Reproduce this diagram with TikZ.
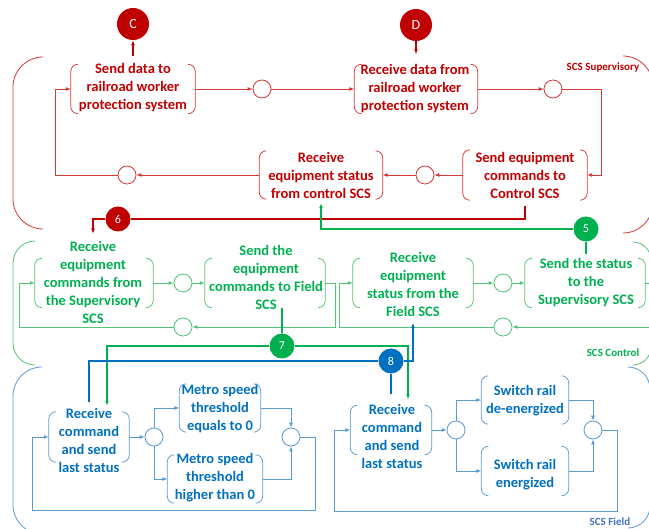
\documentclass[tikz,border=0pt]{standalone}
\usepackage{fontspec}
\setmainfont{Carlito}
\usetikzlibrary{arrows.meta}
\definecolor{rtx}{RGB}{192,0,0}
\definecolor{rln}{RGB}{214,56,56}
\definecolor{gtx}{RGB}{0,176,80}
\definecolor{gln}{RGB}{84,196,120}
\definecolor{btx}{RGB}{0,112,192}
\definecolor{bln}{RGB}{91,155,213}
\definecolor{blab}{RGB}{68,114,196}
\newcommand\brkbox[2]{%
 \draw[#2,line width=0.8pt] ([xshift=7pt]#1.north west) arc[start angle=90,end angle=180,radius=7pt] -- ([yshift=7pt]#1.south west) arc[start angle=180,end angle=270,radius=7pt];
 \draw[#2,line width=0.8pt] ([xshift=-7pt]#1.north east) arc[start angle=90,end angle=0,radius=7pt] -- ([yshift=7pt]#1.south east) arc[start angle=0,end angle=-90,radius=7pt];}
\begin{document}
\begin{tikzpicture}[x=1pt,y=-1pt,
 >={Latex[length=5pt,width=4pt]},
 frm/.style={rectangle,inner sep=0,draw=none},
 txt/.style={align=center,font=\fontsize{14.5}{18}\selectfont\bfseries,inner sep=0},
 sc/.style={circle,draw=#1,fill=white,line width=0.8pt,minimum size=18pt,inner sep=0},
 big/.style={circle,fill=#1,text=white,minimum size=25pt,inner sep=0,font=\fontsize{12}{12}\selectfont},
 lnn/.style={line width=0.8pt},
 thk/.style={line width=1.8pt},
 lab/.style={font=\fontsize{11}{11}\selectfont\bfseries,inner sep=0}]
\useasboundingbox (0,0) rectangle (649,529);
\clip (0,0) rectangle (649,529);
% braces
\draw[rln,lnn] (43,57) arc[start angle=90,end angle=180,radius=30pt] -- (13,199) arc[start angle=180,end angle=270,radius=30pt];
\draw[rln,lnn] (623,56) arc[start angle=90,end angle=0,radius=30pt] -- (653,203) arc[start angle=0,end angle=-90,radius=30pt];
\draw[gln,lnn] (35,241) arc[start angle=90,end angle=180,radius=22pt] -- (13,343) arc[start angle=180,end angle=270,radius=22pt];
\draw[gln,lnn] (633,242) arc[start angle=90,end angle=0,radius=18pt] -- (651,347) arc[start angle=0,end angle=-90,radius=18pt];
\draw[bln,lnn] (42,367) arc[start angle=90,end angle=180,radius=29pt] -- (13,505) arc[start angle=180,end angle=270,radius=29pt];
\draw[bln,lnn] (628,367) arc[start angle=90,end angle=0,radius=22pt] -- (650,506) arc[start angle=0,end angle=-90,radius=22pt];
\node[lab,text=rtx] (lsup) at (603,68) {SCS Supervisory};
\node[lab,text=gtx] (lctl) at (613,353) {SCS Control};
\node[lab,text=blab] (lfld) at (610,522) {SCS Field};
% red nodes
\node[frm,minimum width=124,minimum height=49] (f1) at (133,89) {};
\node[txt,text=rtx] (t1) at (133,88) {Send data to\\railroad worker\\protection system};
\node[frm,minimum width=123,minimum height=49] (f2) at (416,89) {};
\node[txt,text=rtx] (t2) at (415,89) {Receive data from\\railroad worker\\protection system};
\node[frm,minimum width=124,minimum height=50] (f3) at (525,175) {};
\node[txt,text=rtx] (t3) at (525,175) {Send equipment\\commands to\\Control SCS};
\node[frm,minimum width=123,minimum height=48] (f4) at (321,175) {};
\node[txt,text=rtx] (t4) at (321,175) {Receive\\equipment status\\from control SCS};
\node[sc=rln] (s1) at (262,89) {};
\node[sc=rln] (s2) at (553,89) {};
\node[sc=rln] (s3) at (425,175) {};
\node[sc=rln] (s4) at (127,175) {};
\node[big=rtx,minimum size=32pt,font=\fontsize{14}{14}\selectfont] (C) at (133,24) {C};
\node[big=rtx,minimum size=32pt,font=\fontsize{14}{14}\selectfont] (D) at (416,25) {D};
\node[big=rtx] (n6) at (118,219) {6};
% green nodes
\node[frm,minimum width=118,minimum height=49] (f5) at (94,283) {};
\node[txt,text=gtx] (t5) at (93,282) {Receive\\equipment\\commands from\\the Supervisory\\SCS};
\node[frm,minimum width=120,minimum height=49] (f6) at (265,283) {};
\node[txt,text=gtx] (t6) at (266,277) {Send the\\equipment\\commands to Field\\SCS};
\node[frm,minimum width=120,minimum height=49] (f7) at (413,283) {};
\node[txt,text=gtx] (t7) at (413,284) {Receive\\equipment\\status from the\\Field SCS};
\node[frm,minimum width=120,minimum height=49] (f8) at (585,283) {};
\node[txt,text=gtx] (t8) at (586,283) {Send the status\\to the\\Supervisory SCS};
\node[sc=gln] (g1) at (183,283) {};
\node[sc=gln] (g2) at (183,327) {};
\node[sc=gln] (g3) at (503,283) {};
\node[sc=gln] (g4) at (503,327) {};
\node[big=gtx] (n5) at (586,229) {5};
\node[big=gtx] (n7) at (282,346) {7};
% blue nodes
\node[frm,minimum width=80,minimum height=50] (f9) at (89,437) {};
\node[txt,text=btx] (t9) at (89,440) {Receive\\command\\and send\\last status};
\node[sc=bln] (b1) at (154,437) {};
\node[frm,minimum width=81,minimum height=48] (f10) at (220,408) {};
\node[txt,text=btx] (t10) at (220,409) {Metro speed\\threshold\\equals to 0};
\node[frm,minimum width=95,minimum height=48] (f11) at (215,479) {};
\node[txt,text=btx] (t11) at (215,478) {Metro speed\\threshold\\higher than 0};
\node[sc=bln] (b2) at (291,437) {};
\node[frm,minimum width=81,minimum height=49] (f12) at (391,430) {};
\node[txt,text=btx] (t12) at (392,436) {Receive\\command\\and send\\last status};
\node[sc=bln] (b3) at (456,430) {};
\node[frm,minimum width=87,minimum height=48] (f13) at (525,400) {};
\node[txt,text=btx] (t13) at (525,401) {Switch rail\\de-energized};
\node[frm,minimum width=87,minimum height=49] (f14) at (525,471) {};
\node[txt,text=btx] (t14) at (525,475) {Switch rail\\energized};
\node[sc=bln] (b4) at (593,430) {};
\node[big=btx] (n8) at (391,361) {8};
\coordinate (q1) at (315,510);
\coordinate (q2) at (617,511);
% brackets
\brkbox{f1}{rln}\brkbox{f2}{rln}\brkbox{f3}{rln}\brkbox{f4}{rln}
\brkbox{f5}{gln}\brkbox{f6}{gln}\brkbox{f7}{gln}\brkbox{f8}{gln}
\brkbox{f9}{bln}\brkbox{f10}{bln}\brkbox{f11}{bln}\brkbox{f12}{bln}\brkbox{f13}{bln}\brkbox{f14}{bln}
% red connectors
\draw[rln,lnn,->] (f1.east) -- (s1.west);
\draw[rln,lnn,->] (s1.east) -- (f2.west);
\draw[rln,lnn,->] (f2.east) -- (s2.west);
\draw[rln,lnn,->] (s2.east) -| ([xshift=14pt]f3.east) -- (f3.east);
\draw[rln,lnn,->] (f3.west) -- (s3.east);
\draw[rln,lnn,->] (s3.west) -- (f4.east);
\draw[rln,lnn,->] (f4.west) -- (s4.east);
\draw[rln,lnn,->] (s4.west) -| ([xshift=-15pt]f1.west) -- (f1.west);
\draw[rtx,thk,->] ([yshift=8pt]f1.north) -- (C.south);
\draw[rtx,thk,->] (D.south) -- ([yshift=10pt]f2.north);
\draw[rtx,thk] ([yshift=-6pt]f3.south) |- (n6.east);
\draw[rtx,thk,->] (n6.west) -| ([yshift=7pt]t5.north);
% green connectors
\draw[gln,lnn,->] (f5.east) -- (g1.west);
\draw[gln,lnn,->] (g1.east) -- (f6.west);
\draw[gln,lnn,->] (f6.east) -- ++(10,0) |- (g2.east);
\draw[gln,lnn,->] (g2.west) -| ([xshift=-15pt]f5.west) -- (f5.west);
\draw[gln,lnn,->] (f7.east) -- (g3.west);
\draw[gln,lnn,->] (g3.east) -- (f8.west);
\draw[gln,lnn,->] (f8.east) -- ++(15,0) |- (g4.east);
\draw[gln,lnn,->] (g4.west) -| ([xshift=-13pt]f7.west) -- (f7.west);
\draw[gtx,thk,->] (n5.west) -| ([yshift=-4pt]f4.south);
\draw[gtx,thk] (n5.south) -- ([yshift=5pt]t8.north);
\draw[gtx,thk] (f6.south -| n7) -- (n7.north);
\draw[gtx,thk,->] (n7.west) -| ([xshift=18pt,yshift=6pt]f9.north);
\draw[gtx,thk,->] (n7.east) -| ([xshift=17pt,yshift=6pt]f12.north);
% blue connectors
\draw[bln,lnn,->] (f9.east) -- (b1.west);
\draw[bln,lnn,->] (b1.north) |- (f10.west);
\draw[bln,lnn,->] (b1.south) |- (f11.west);
\draw[bln,lnn,->] (f10.east) -| (b2.north);
\draw[bln,lnn,->] (f11.east) -| (b2.south);
\draw[bln,lnn,->] (b2.east) -| (q1) -| ([xshift=-16pt]f9.west) -- (f9.west);
\draw[bln,lnn,->] (f12.east) -- (b3.west);
\draw[bln,lnn,->] (b3.north) |- (f13.west);
\draw[bln,lnn,->] (b3.south) |- (f14.west);
\draw[bln,lnn,->] (f13.east) -| (b4.north);
\draw[bln,lnn,->] (f14.east) -| (b4.south);
\draw[bln,lnn,->] (b4.east) -| (q2) -| ([xshift=-16pt]f12.west) -- (f12.west);
\draw[btx,thk] ([yshift=10pt]f9.north) |- (n8.west);
\draw[btx,thk,->] (n8.east) -| ([yshift=-15pt]f7.south);
\draw[btx,thk] (n8.south) -- ([yshift=11pt]f12.north);
\end{tikzpicture}
\end{document}
